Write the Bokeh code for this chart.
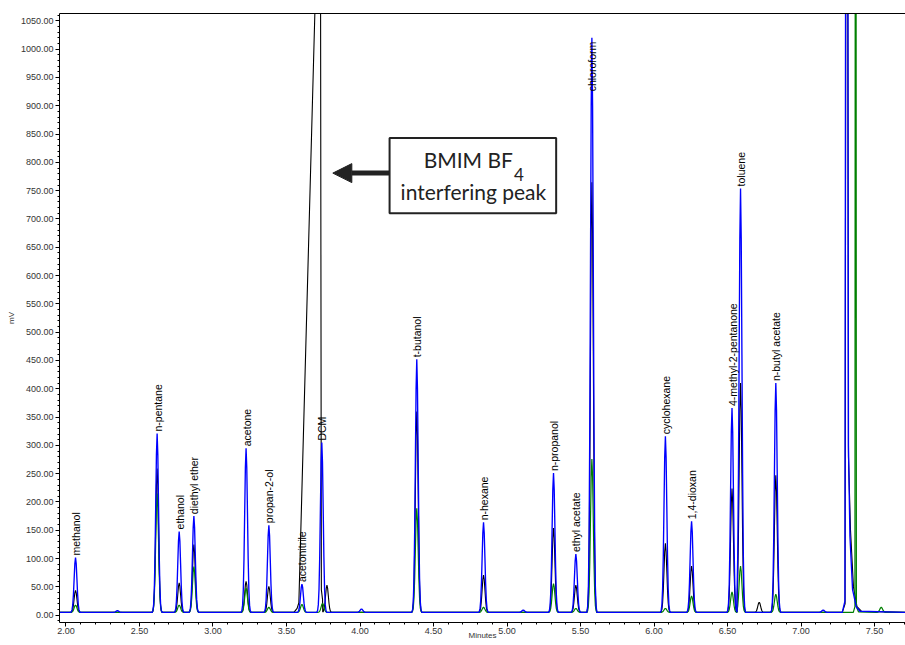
import numpy as np
from bokeh.plotting import figure
from bokeh.models import (FixedTicker, NumeralTickFormatter, LinearAxis, Label,
                          BoxAnnotation, Arrow, NormalHead, ColumnDataSource)
from bokeh.core.properties import value
from bokeh.embed import file_html
from bokeh.resources import INLINE

# ---------------- data ----------------
compounds = ["methanol", "n-pentane", "ethanol", "diethyl ether", "acetone",
             "propan-2-ol", "acetonitrile", "DCM", "t-butanol", "n-hexane",
             "n-propanol", "ethyl acetate", "chloroform", "cyclohexane",
             "1,4-dioxan", "4-methyl-2-pentanone", "toluene", "n-butyl acetate"]
compound_rt = [2.065, 2.62, 2.77, 2.87, 3.225, 3.38, 3.605, 3.74, 4.386, 4.84,
               5.316, 5.468, 5.577, 6.077, 6.255, 6.53, 6.588, 6.828]
label_mv = [102, 321, 148, 175, 295, 159, 55, 305, 452, 164,
            251, 108, 922, 316, 166, 366, 754, 410]

baseline_mv = 5

blue_peak_rt = [2.065, 2.35, 2.62, 2.77, 2.87, 3.225, 3.38, 3.605, 3.74, 4.01,
                4.386, 4.84, 5.11, 5.316, 5.468, 5.577, 6.077, 6.255, 6.53,
                6.588, 6.828, 7.15]
blue_peak_mv = [102, 8, 321, 148, 175, 295, 159, 55, 305, 11,
                452, 164, 9, 251, 108, 1020, 316, 166, 366,
                754, 410, 9]

black_peak_rt = [2.065, 2.62, 2.77, 2.87, 3.225, 3.38, 3.775, 4.386, 4.84,
                 5.316, 5.468, 5.577, 6.077, 6.255, 6.53, 6.588, 6.715, 6.828]
black_peak_mv = [44, 259, 57, 125, 60, 51, 53, 360, 71,
                 154, 53, 765, 127, 87, 224, 410, 23, 247]

green_peak_rt = [2.065, 2.62, 2.77, 2.87, 3.225, 3.38, 3.605, 3.745, 4.386,
                 4.84, 5.316, 5.468, 5.577, 6.077, 6.255, 6.53, 6.588, 6.828,
                 7.545]
green_peak_mv = [18, 215, 18, 86, 48, 14, 19, 21, 189,
                 14, 56, 12, 276, 12, 34, 41, 87, 37,
                 14]

# irregular / off-scale peaks, read as points
bmim_rt = [3.55, 3.572, 3.584, 3.73, 3.737, 3.745]
bmim_mv = [5, 12, 22, 1420, 45, 28]
blue_end_rt = [7.28, 7.298, 7.31, 7.322, 7.332, 7.35, 7.375, 7.40]
blue_end_mv = [5, 25, 3000, 300, 140, 45, 15, 7]
black_end_rt = [7.28, 7.299, 7.31, 7.322, 7.336, 7.356, 7.38, 7.41]
black_end_mv = [5, 20, 2500, 280, 150, 50, 15, 7]
green_end_rt = [7.355, 7.366, 7.371, 7.376, 7.39]
green_end_mv = [5, 15, 3000, 15, 6]

x_ticks = [2.0, 2.5, 3.0, 3.5, 4.0, 4.5, 5.0, 5.5, 6.0, 6.5, 7.0, 7.5]
y_ticks = list(range(0, 1051, 50))

# ---------------- peak drawing helpers (style) ----------------
SHAPE_OFF = [-3.6, -3, -2.5, -2, -1.5, -1, -0.5, 0, 0.5, 1, 1.5, 2, 2.5, 3, 3.6]
SHAPE_FRAC = [0.0, 0.011, 0.044, 0.135, 0.325, 0.607, 0.882, 1.0,
              0.882, 0.607, 0.325, 0.135, 0.044, 0.011, 0.0]
SIGMA = 0.0095
X0, X1 = 1.956, 7.71
Y0, Y1 = -12.9, 1063


def trace(peak_rt, peak_mv, extra_segments):
    segs = []
    for rt, mv in zip(peak_rt, peak_mv):
        segs.append([(rt + o * SIGMA, baseline_mv + f * (mv - baseline_mv))
                     for o, f in zip(SHAPE_OFF, SHAPE_FRAC)])
    for ts, vs in extra_segments:
        segs.append(list(zip(ts, vs)))
    segs.sort(key=lambda s: s[0][0])
    xs, ys = [X0], [baseline_mv]
    for s in segs:
        for t, v in s:
            if t > xs[-1]:
                xs.append(t)
                ys.append(v)
    xs.append(X1)
    ys.append(baseline_mv)
    return xs, ys


bx, by = trace(blue_peak_rt, blue_peak_mv, [(blue_end_rt, blue_end_mv)])
kx, ky = trace(black_peak_rt, black_peak_mv, [(bmim_rt, bmim_mv), (black_end_rt, black_end_mv)])
gx, gy = trace(green_peak_rt, green_peak_mv, [(green_end_rt, green_end_mv)])

# ---------------- figure ----------------
p = figure(width=905, height=645, x_range=(X0, X1), y_range=(Y0, Y1),
           output_backend="svg", toolbar_location=None,
           min_border_left=59, min_border_right=0, min_border_top=13,
           min_border_bottom=23, x_axis_label="Minutes", y_axis_label="mV")
p.outline_line_color = None
p.grid.visible = False
p.background_fill_color = "white"

p.line(kx, ky, line_color="black", line_width=1.1)
p.line(gx, gy, line_color="#008000", line_width=1.2)
p.line(bx, by, line_color="#0000ff", line_width=1.35)

src = ColumnDataSource(dict(x=compound_rt, y=label_mv, t=compounds))
p.text(x="x", y="y", text="t", source=src, angle=np.pi / 2,
       text_align="left", text_baseline="middle",
       text_font=value("Liberation Sans"), text_font_size="10.5px",
       text_color="black", x_offset=0.5, y_offset=-2)

FONT = "Liberation Sans"
for ax in (p.xaxis[0], p.yaxis[0]):
    ax.major_label_text_font = FONT
    ax.major_label_text_font_size = "9px"
    ax.major_label_text_color = "#333333"
    ax.axis_label_text_font = FONT
    ax.axis_label_text_font_size = "8px"
    ax.axis_label_text_font_style = "normal"
    ax.axis_label_text_color = "#333333"
    ax.axis_line_color = "black"
    ax.major_tick_line_color = "black"
    ax.minor_tick_line_color = "black"
    ax.major_tick_in = 0
    ax.minor_tick_in = 0
    ax.major_tick_out = 4
    ax.minor_tick_out = 2
    ax.major_label_standoff = 2
    ax.axis_label_standoff = 2
    ax.formatter = NumeralTickFormatter(format="0.00")

p.xaxis[0].major_label_standoff = 1
p.xaxis[0].axis_label_standoff = -6
p.xaxis[0].ticker = FixedTicker(ticks=x_ticks,
                                minor_ticks=[round(2.0 + 0.1 * i, 2) for i in range(58)])
p.yaxis[0].ticker = FixedTicker(ticks=y_ticks, minor_ticks=list(range(-10, 1061, 10)))

top = LinearAxis(ticker=FixedTicker(ticks=[]), major_label_text_font_size="0px",
                 major_tick_out=0, minor_tick_out=0, major_tick_in=0, minor_tick_in=0,
                 axis_line_color="black", major_label_standoff=0)
p.add_layout(top, "above")

# ---------------- annotation ----------------
p.add_layout(Arrow(end=NormalHead(size=19, fill_color="#222222", line_color="#222222"),
                   x_start=4.201, y_start=781, x_end=3.815, y_end=781,
                   line_width=5, line_color="#222222"))
p.add_layout(BoxAnnotation(left=4.201, right=5.334, bottom=710, top=843,
                           fill_color="white", fill_alpha=1.0,
                           line_color="#222222", line_width=2, line_alpha=1.0))
BOXFONT = "Lato"
p.add_layout(Label(x=5.04, y=805, text="BMIM BF", text_align="right",
                   text_baseline="middle", text_font=BOXFONT,
                   text_font_size="21px", text_color="#222222"))
p.add_layout(Label(x=5.047, y=778, text="4", text_align="left",
                   text_baseline="middle", text_font=BOXFONT,
                   text_font_size="17px", text_color="#222222"))
p.add_layout(Label(x=4.771, y=748, text="interfering peak", text_align="center",
                   text_baseline="middle", text_font=BOXFONT,
                   text_font_size="21px", text_color="#222222"))

open("out.html", "w").write(file_html(p, INLINE))
